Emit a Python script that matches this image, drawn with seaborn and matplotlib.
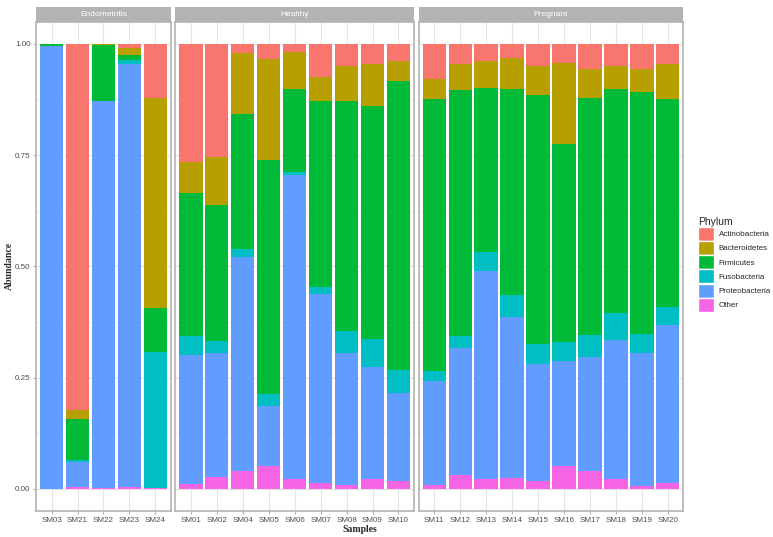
import seaborn as sns
import matplotlib.pyplot as plt
import matplotlib.patches as mpatches
import pandas as pd
import numpy as np

# samples in plotting order, with their facet group
samples = ["SM03", "SM21", "SM22", "SM23", "SM24",
           "SM01", "SM02", "SM04", "SM05", "SM06", "SM07", "SM08", "SM09", "SM10",
           "SM11", "SM12", "SM13", "SM14", "SM15", "SM16", "SM17", "SM18", "SM19", "SM20"]
groups = ["Endometritis"] * 5 + ["Healthy"] * 9 + ["Pregnant"] * 10
group_names = ["Endometritis", "Healthy", "Pregnant"]

# relative abundance per phylum (same order as samples)
other = [0.000, 0.003, 0.001, 0.003, 0.001,
         0.011, 0.026, 0.040, 0.052, 0.022, 0.014, 0.008, 0.021, 0.017,
         0.009, 0.032, 0.022, 0.025, 0.017, 0.052, 0.039, 0.022, 0.007, 0.014]
proteobacteria = [0.996, 0.058, 0.871, 0.952, 0.000,
                  0.290, 0.280, 0.480, 0.134, 0.682, 0.423, 0.297, 0.253, 0.199,
                  0.233, 0.285, 0.468, 0.361, 0.263, 0.235, 0.257, 0.312, 0.299, 0.353]
fusobacteria = [0.000, 0.004, 0.000, 0.009, 0.306,
                0.042, 0.025, 0.019, 0.027, 0.008, 0.017, 0.050, 0.063, 0.050,
                0.023, 0.027, 0.043, 0.050, 0.046, 0.043, 0.050, 0.061, 0.042, 0.041]
firmicutes = [0.004, 0.092, 0.125, 0.010, 0.100,
              0.321, 0.307, 0.303, 0.526, 0.187, 0.417, 0.516, 0.523, 0.650,
              0.611, 0.552, 0.367, 0.462, 0.558, 0.444, 0.533, 0.504, 0.543, 0.468]
bacteroidetes = [0.000, 0.021, 0.002, 0.017, 0.470,
                 0.070, 0.107, 0.137, 0.226, 0.083, 0.055, 0.080, 0.095, 0.046,
                 0.044, 0.059, 0.061, 0.071, 0.066, 0.182, 0.064, 0.050, 0.052, 0.079]
actinobacteria = [0.000, 0.822, 0.001, 0.009, 0.123,
                  0.266, 0.255, 0.021, 0.035, 0.018, 0.074, 0.049, 0.045, 0.038,
                  0.080, 0.045, 0.039, 0.031, 0.050, 0.044, 0.057, 0.051, 0.057, 0.045]

phyla = ["Actinobacteria", "Bacteroidetes", "Firmicutes", "Fusobacteria", "Proteobacteria", "Other"]
colors = ["#F8766D", "#B79F00", "#00BA38", "#00BFC4", "#619CFF", "#F564E3"]

df = pd.DataFrame({"Sample": samples, "Group": groups,
                   "Other": other, "Proteobacteria": proteobacteria,
                   "Fusobacteria": fusobacteria, "Firmicutes": firmicutes,
                   "Bacteroidetes": bacteroidetes, "Actinobacteria": actinobacteria})
# cumulative heights, bottom (Other) to top (Actinobacteria)
stack = phyla[::-1]
cum = df[stack].cumsum(axis=1)

sns.set_theme(style="white")
plt.rcParams['font.family'] = ['Liberation Sans', 'DejaVu Sans']

W, H = 773, 537
fig = plt.figure(figsize=(W / 100, H / 100), dpi=100)

grey70 = "#B3B3B3"
grey87 = "#E3E3E3"
panel_x = [36, 175.3, 418.7]
top, bottom = 21.5, 511
strip_top = 7

for i, g in enumerate(group_names):
    sub_idx = [k for k, gg in enumerate(groups) if gg == g]
    n = len(sub_idx)
    width_px = (n + 0.2) * 25.95
    ax = fig.add_axes([panel_x[i] / W, (H - bottom) / H, width_px / W, (bottom - top) / H])
    sub = df.iloc[sub_idx]
    order = list(sub["Sample"])
    for ph, col in zip(phyla, colors):
        d = pd.DataFrame({"Sample": sub["Sample"], "cum": cum.loc[sub.index, ph]})
        sns.barplot(data=d, x="Sample", y="cum", order=order, color=col,
                    saturation=1, width=0.9, errorbar=None, linewidth=0,
                    ax=ax, zorder=2)
    ax.set_xlim(-0.6, n - 0.4)
    ax.set_ylim(-0.05, 1.05)
    ax.set_yticks([0, 0.25, 0.5, 0.75, 1.0])
    ax.set_yticks([0.125, 0.375, 0.625, 0.875], minor=True)
    ax.grid(True, which="major", color=grey87, linewidth=0.8, zorder=0)
    ax.grid(True, which="minor", axis="y", color=grey87, linewidth=0.4, zorder=0)
    ax.set_axisbelow(True)
    for s in ax.spines.values():
        s.set_color(grey70)
        s.set_linewidth(1.2)
    ax.set_xlabel("")
    ax.set_ylabel("")
    ax.tick_params(axis="both", which="major", length=2.5, color=grey70, width=0.8,
                   labelsize=5.8, labelcolor="#4D4D4D", pad=1.5,
                   bottom=True, left=(i == 0))
    ax.tick_params(axis="y", which="minor", length=0)
    if i == 0:
        ax.set_yticklabels(["0.00", "0.25", "0.50", "0.75", "1.00"])
    else:
        ax.set_yticklabels([])
    # facet strip
    sax = fig.add_axes([panel_x[i] / W, (H - top) / H, width_px / W, (top - strip_top) / H])
    sax.set_facecolor(grey70)
    sax.set_xticks([])
    sax.set_yticks([])
    for s in sax.spines.values():
        s.set_visible(False)
    sax.text(0.5, 0.5, g, ha="center", va="center", color="white", fontsize=6,
             transform=sax.transAxes)

fig.text(359.5 / W, 1 - 529 / H, "Samples", ha="center", va="center",
         fontsize=7, fontweight="bold", family="Liberation Serif")
fig.text(9 / W, 1 - 266 / H, "Abundance", ha="center", va="center", rotation=90,
         fontsize=7, fontweight="bold", family="Liberation Serif")

handles = [mpatches.Patch(facecolor=c, edgecolor="white", linewidth=1, label=p)
           for p, c in zip(phyla, colors)]
leg = fig.legend(handles=handles, title="Phylum", loc="upper left",
                 bbox_to_anchor=(692 / W, 1 - 211 / H), frameon=False,
                 fontsize=5.8, title_fontsize=7.5, handlelength=2.0,
                 handleheight=2.3, labelspacing=0.02, handletextpad=0.6,
                 borderpad=0.2)
leg._legend_box.align = "left"

fig.savefig("out.png", dpi=100)
